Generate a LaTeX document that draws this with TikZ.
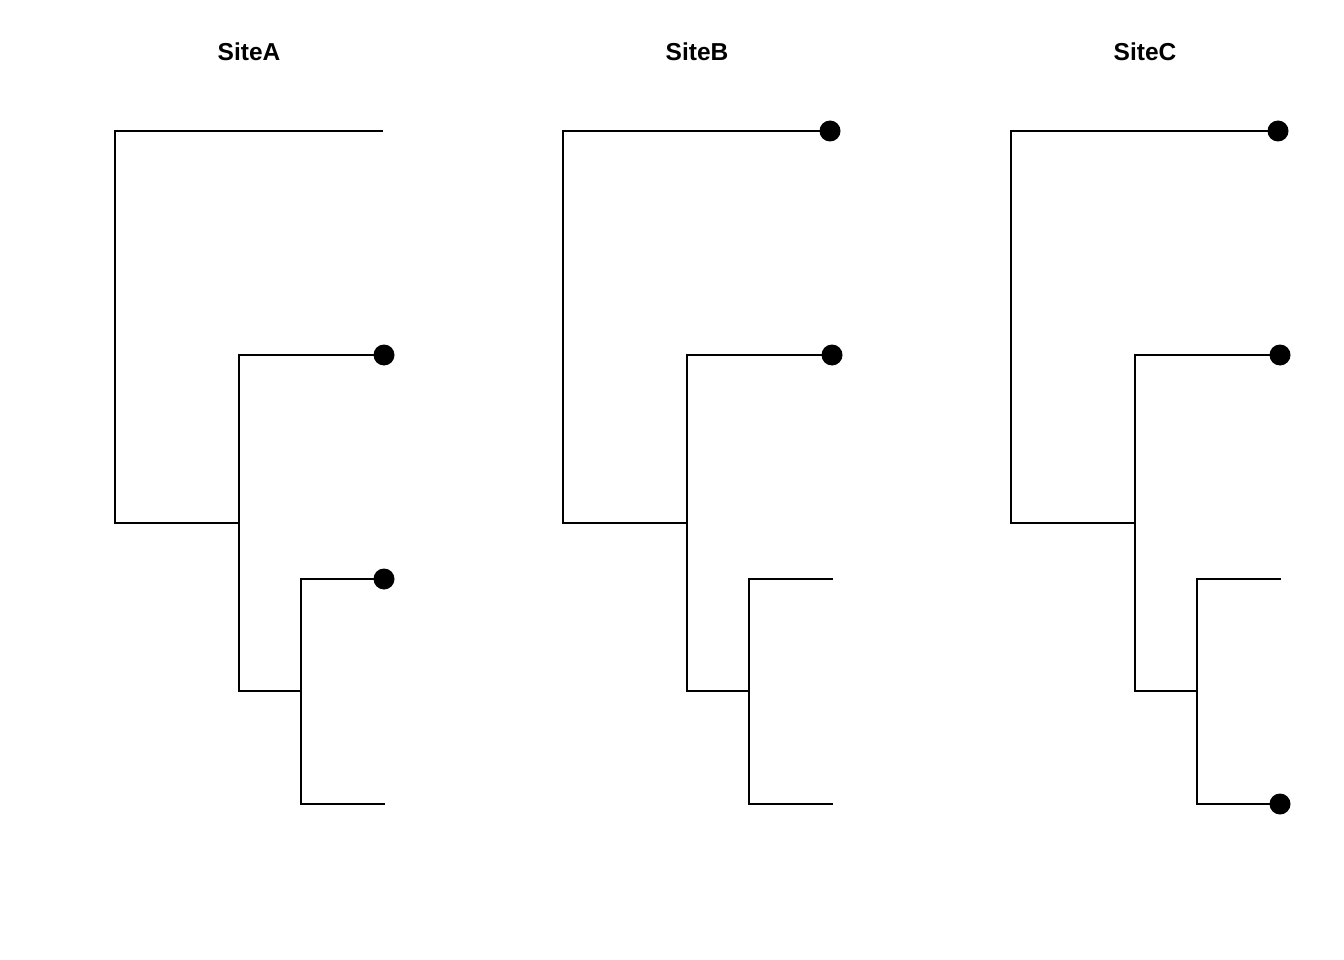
\documentclass[tikz,border=0pt]{standalone}
\usepackage{fontspec}
\setmainfont{Liberation Sans}
\begin{document}
\begin{tikzpicture}[x=1pt,y=-1pt,
  branch/.style={draw=black,line width=1.7pt,line join=miter},
  tipdot/.style={circle,fill=black,minimum size=21pt,inner sep=0pt},
  paneltitle/.style={font=\fontsize{24.5}{28}\selectfont\bfseries,inner sep=0pt}]
\useasboundingbox (0,0) rectangle (1344,960);
% ---------- Site A ----------
\node[paneltitle] (titleA) at (249,52) {SiteA};
\coordinate (rA) at (115,327);
\coordinate (n1A) at (239,523);
\coordinate (n2A) at (301,691);
\coordinate (t1A) at (383,131);
\coordinate (t2A) at (384,355);
\coordinate (t3A) at (384,579);
\coordinate (t4A) at (385,804);
\draw[branch] (t1A) -| (rA) |- (n1A);
\draw[branch] (t2A) -| (n1A) |- (n2A);
\draw[branch] (t3A) -| (n2A) |- (t4A);
\node[tipdot] (d2A) at (t2A) {};
\node[tipdot] (d3A) at (t3A) {};
% ---------- Site B ----------
\node[paneltitle] (titleB) at (697,52) {SiteB};
\coordinate (rB) at (563,327);
\coordinate (n1B) at (687,523);
\coordinate (n2B) at (749,691);
\coordinate (t1B) at (830,131);
\coordinate (t2B) at (832,355);
\coordinate (t3B) at (833,579);
\coordinate (t4B) at (833,804);
\draw[branch] (t1B) -| (rB) |- (n1B);
\draw[branch] (t2B) -| (n1B) |- (n2B);
\draw[branch] (t3B) -| (n2B) |- (t4B);
\node[tipdot] (d1B) at (t1B) {};
\node[tipdot] (d2B) at (t2B) {};
% ---------- Site C ----------
\node[paneltitle] (titleC) at (1145,52) {SiteC};
\coordinate (rC) at (1011,327);
\coordinate (n1C) at (1135,523);
\coordinate (n2C) at (1197,691);
\coordinate (t1C) at (1278,131);
\coordinate (t2C) at (1280,355);
\coordinate (t3C) at (1281,579);
\coordinate (t4C) at (1280,804);
\draw[branch] (t1C) -| (rC) |- (n1C);
\draw[branch] (t2C) -| (n1C) |- (n2C);
\draw[branch] (t3C) -| (n2C) |- (t4C);
\node[tipdot] (d1C) at (t1C) {};
\node[tipdot] (d2C) at (t2C) {};
\node[tipdot] (d4C) at (t4C) {};
\end{tikzpicture}
\end{document}
